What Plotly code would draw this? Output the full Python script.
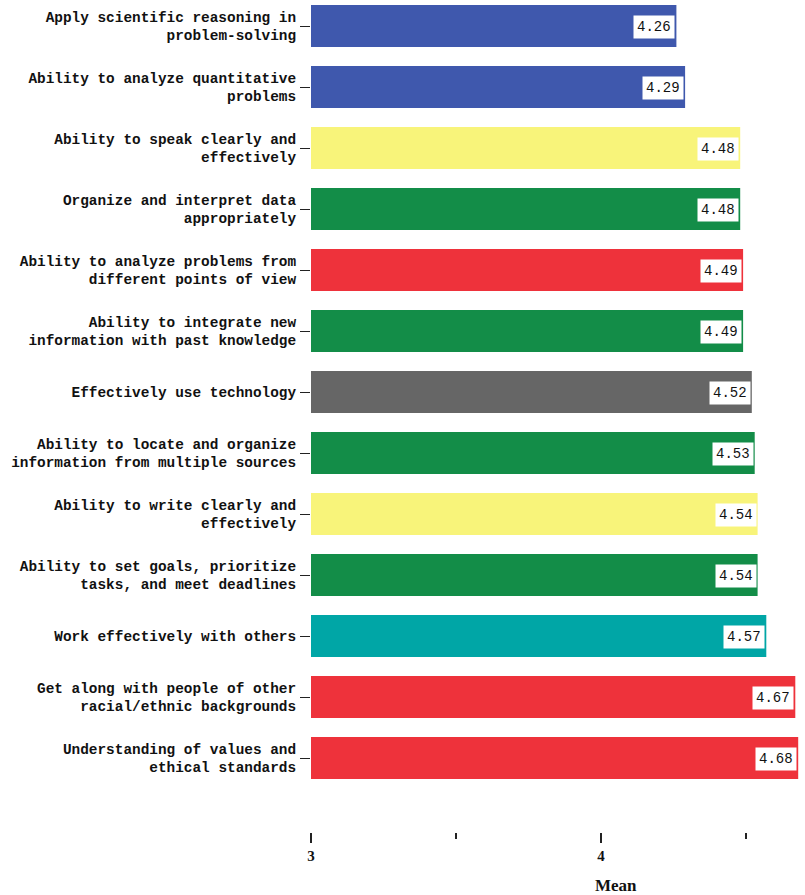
import plotly.graph_objects as go

categories = [
    "Apply scientific reasoning in<br>problem-solving",
    "Ability to analyze quantitative<br>problems",
    "Ability to speak clearly and<br>effectively",
    "Organize and interpret data<br>appropriately",
    "Ability to analyze problems from<br>different points of view",
    "Ability to integrate new<br>information with past knowledge",
    "Effectively use technology",
    "Ability to locate and organize<br>information from multiple sources",
    "Ability to write clearly and<br>effectively",
    "Ability to set goals, prioritize<br>tasks, and meet deadlines",
    "Work effectively with others",
    "Get along with people of other<br>racial/ethnic backgrounds",
    "Understanding of values and<br>ethical standards",
]
values = [4.26, 4.29, 4.48, 4.48, 4.49, 4.49, 4.52, 4.53, 4.54, 4.54, 4.57, 4.67, 4.68]
colors = ["#3F58AD", "#3F58AD", "#F8F47A", "#138D48", "#EE323B", "#138D48", "#666666",
          "#138D48", "#F8F47A", "#138D48", "#00A6A6", "#EE323B", "#EE323B"]
x_tickvals = [3, 4]
x_ticktext = ["3", "4"]

W, H = 805, 895
ML, MR, MT, MB = 311, 0, 0, 63
plot_w = W - ML - MR
plot_h = H - MT - MB

fig = go.Figure()
fig.add_trace(go.Bar(
    x=[v - 3 for v in values], base=3, y=categories, orientation="h",
    marker=dict(color=colors, line=dict(width=0)),
    width=0.69, hoverinfo="skip",
))

for c, v in zip(categories, values):
    fig.add_annotation(
        x=v, y=c, xref="x", yref="y", text=f"{v:.2f}", showarrow=False,
        xanchor="right", yanchor="middle", xshift=-1, yshift=-1,
        bgcolor="white", borderpad=3,
        font=dict(family="Liberation Mono", size=14, color="#111"),
    )

fig.add_annotation(
    x=(616 - ML) / plot_w, y=-(885 - (MT + plot_h)) / plot_h, xref="paper", yref="paper",
    text="<b>Mean</b>", showarrow=False, xanchor="center", yanchor="middle",
    font=dict(family="Liberation Serif", size=17, color="#111"),
)

fig.update_layout(
    width=W, height=H,
    margin=dict(l=ML, r=MR, t=MT, b=MB, autoexpand=False),
    plot_bgcolor="white", paper_bgcolor="white",
    showlegend=False, bargap=0.3,
    xaxis=dict(
        range=[3, 3 + plot_w / 290], tickvals=x_tickvals, ticktext=x_ticktext,
        ticks="outside", ticklen=10, tickwidth=1.5, tickcolor="#222",
        showgrid=False, zeroline=False, showline=False,
        tickfont=dict(family="Liberation Serif", size=15, color="#111", weight="bold"),
        minor=dict(tickvals=[3.5, 4.5], ticks="outside", ticklen=6, tickwidth=1.5, tickcolor="#222", showgrid=False),
        fixedrange=True,
    ),
    yaxis=dict(
        categoryorder="array", categoryarray=categories,
        range=[(plot_h - 26) / 61, -26 / 61],
        ticks="outside", ticklen=10, tickwidth=1.2, tickcolor="#222",
        showgrid=False, zeroline=False, showline=False,
        tickfont=dict(family="Liberation Mono", size=14.4, color="#111", weight="bold"),
        ticklabelstandoff=1,
        fixedrange=True,
    ),
)

fig.write_html(
    "out.html",
    config={"displayModeBar": False},
    post_script="document.body.style.margin='0';document.body.style.padding='0';",
)
